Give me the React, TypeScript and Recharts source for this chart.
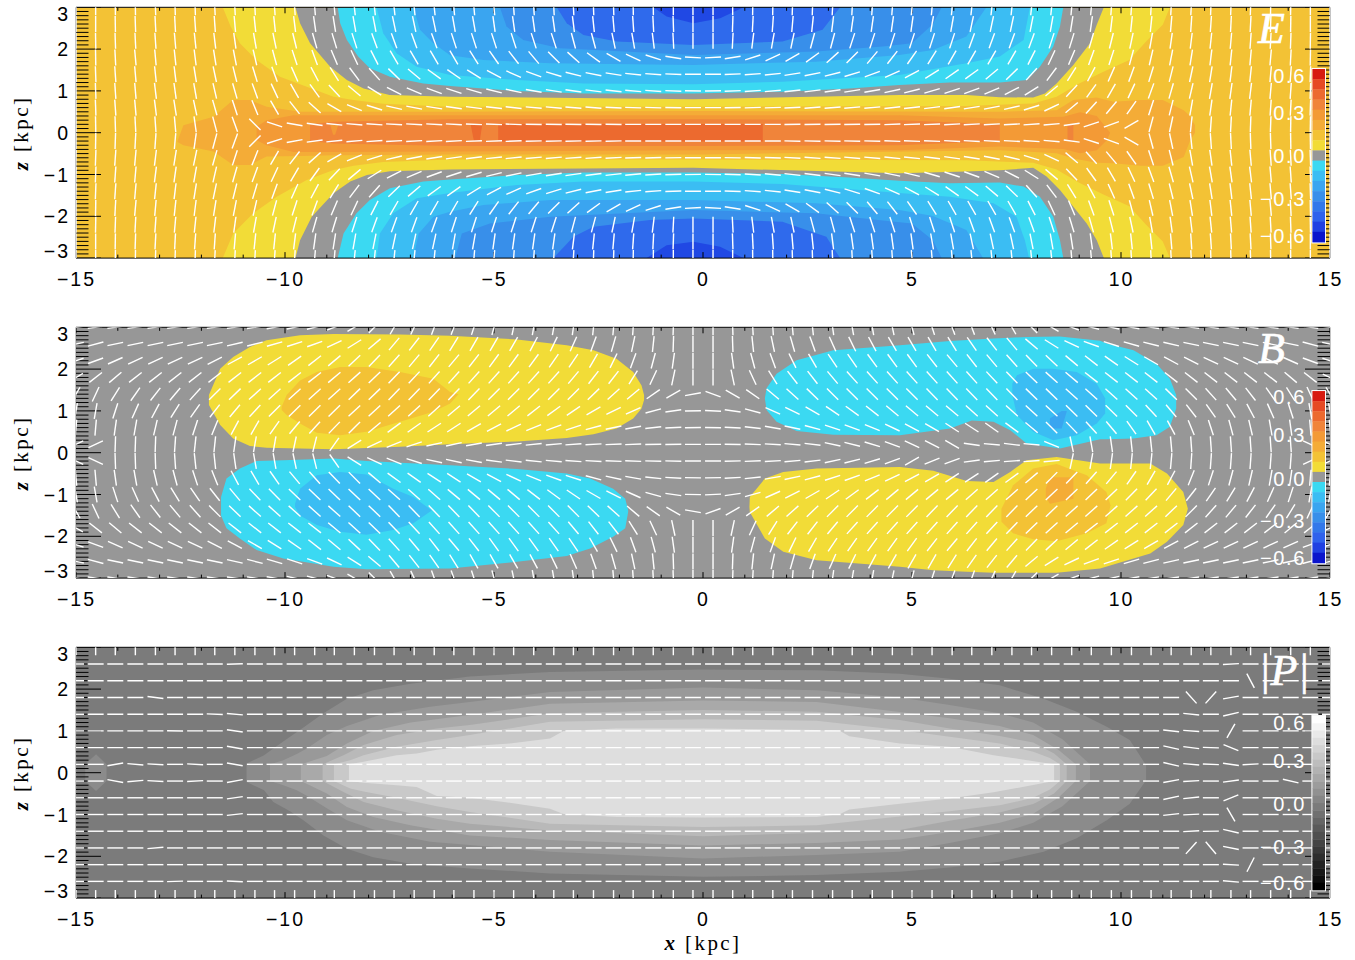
import { Area, ComposedChart, ReferenceLine, Scatter, XAxis, YAxis } from "recharts";

const SANS = "'Liberation Sans', Arial, sans-serif";
const SERIF = "'Liberation Serif', 'Times New Roman', serif";

const xTicks = [-15, -10, -5, 0, 5, 10, 15];
const zTicks = [-3, -2, -1, 0, 1, 2, 3];
const barTicks = ["0.6", "0.3", "0.0", "\u22120.3", "\u22120.6"];

// polarisation sticks sit on one grid in all three panels
const xCols = [
  -15, -14.53, -14.06, -13.58, -13.1, -12.63, -12.15, -11.68, -11.2, -10.72, -10.25, -9.77, -9.29, -8.82, -8.34, -7.86,
  -7.39, -6.91, -6.43, -5.96, -5.48, -5, -4.53, -4.05, -3.57, -3.1, -2.62, -2.14, -1.67, -1.19, -0.71, -0.24,
  0.24, 0.71, 1.19, 1.67, 2.14, 2.62, 3.1, 3.57, 4.05, 4.53, 5, 5.48, 5.96, 6.43, 6.91, 7.39,
  7.86, 8.34, 8.82, 9.29, 9.77, 10.25, 10.72, 11.2, 11.68, 12.15, 12.63, 13.1, 13.58, 14.06, 14.53, 15,
];
const zRows = [3, 2.6, 2.2, 1.8, 1.4, 1, 0.6, 0.2, -0.2, -0.6, -1, -1.4, -1.8, -2.2, -2.6, -3];

// stick angle in degrees, one row per zRows entry, one value per xCols entry
const eAngles = [
  [-90,-90,-89,-89,-88,-88,-88,-87,-87,-87,-86,-86,-85,-85,-84,-84,-84,-84,-84,-85,-85,-85,-86,-86,-87,-87,-88,-88,-89,-89,-90,-90, 90,90,89,89,88,88,87,87,86,86,85,85,85,84,84,84,84,84,85,85,86,86,87,87,87,88,88,88,89,89,90,90],
  [-90,-90,-89,-88,-87,-87,-86,-86,-85,-84,-84,-83,-82,-81,-80,-79,-78,-78,-78,-80,-80,-82,-82,-82,-82,-83,-84,-85,-86,-87,-88,-90, 90,88,87,86,85,84,83,82,82,82,82,80,80,78,78,78,79,80,81,82,83,84,84,85,86,86,87,87,88,89,90,90],
  [-90,-89,-88,-87,-86,-85,-84,-83,-82,-80,-78,-76,-74,-73,-72,-70,-70,-70,-70,-72,-72,-72,-72,-72,-72,-75,-75,-78,-80,-83,-87,-90, 90,87,83,80,78,75,75,72,72,72,72,72,72,70,70,70,70,72,73,74,76,78,80,82,83,84,85,86,87,88,89,90],
  [-90,-89,-87,-85,-85,-84,-83,-81,-79,-77,-75,-72,-70,-67,-65,-63,-60,-60,-60,-60,-58,-55,-52,-50,-45,-42,-36,-30,-25,-18,-9,-3, 3,9,18,25,30,36,42,45,50,52,55,58,60,60,60,60,63,65,67,70,72,75,77,79,81,83,84,85,85,87,89,90],
  [-89,-88,-86,-85,-84,-83,-81,-78,-76,-73,-70,-66,-62,-58,-53,-48,-44,-40,-36,-35,-32,-28,-24,-20,-17,-14,-11,-9,-6,-4,-2,0, 0,2,4,6,9,11,14,17,20,24,28,32,35,36,40,44,48,53,58,62,66,70,73,76,78,81,83,84,85,86,88,89],
  [-89,-88,-86,-85,-83,-82,-80,-77,-74,-70,-65,-60,-54,-47,-40,-32,-27,-23,-20,-18,-16,-14,-12,-10,-9,-8,-7,-6,-5,-4,-2,-1, 1,2,4,5,6,7,8,9,10,12,14,16,18,20,23,27,32,40,47,54,60,65,70,74,77,80,82,83,85,86,88,89],
  [-89,-88,-86,-85,-83,-81,-78,-74,-72,-68,-60,-52,-42,-30,-22,-17,-13,-11,-9,-8,-7,-6,-6,-5,-5,-4,-4,-3,-2,-2,-1,0, 0,1,2,2,3,4,4,5,5,6,6,7,8,9,11,13,17,25,40,48,50,55,72,76,80,82,84,85,86,87,88,89],
  [-90,-89,-88,-87,-86,-85,-82,-75,-70,-45,-18,-10,-8,-6,-5,-4,-3,-3,-3,-3,-2,-2,-2,-1,-1,-1,-1,-1,0,0,0,0, 0,0,0,0,1,1,1,1,1,2,2,2,3,3,3,3,4,5,8,18,20,30,75,78,84,86,87,88,88,89,89,90],
  [90,89,88,87,86,85,82,75,70,45,18,10,8,6,5,4,3,3,3,3,2,2,2,1,1,1,1,1,0,0,0,0, 0,0,0,0,-1,-1,-1,-1,-1,-2,-2,-2,-3,-3,-3,-3,-4,-5,-8,-18,-20,-30,-75,-78,-84,-86,-87,-88,-88,-89,-89,-90],
  [89,88,86,85,83,81,78,74,72,68,60,52,42,30,22,17,13,11,9,8,7,6,6,5,5,4,4,3,2,2,1,0, 0,-1,-2,-2,-3,-4,-4,-5,-5,-6,-6,-7,-8,-9,-11,-13,-17,-25,-40,-48,-50,-55,-72,-76,-80,-82,-84,-85,-86,-87,-88,-89],
  [89,88,86,85,83,82,80,77,74,70,65,60,54,47,40,32,27,23,20,18,16,14,12,10,9,8,7,6,5,4,2,1, -1,-2,-4,-5,-6,-7,-8,-9,-10,-12,-14,-16,-18,-20,-23,-27,-32,-40,-47,-54,-60,-65,-70,-74,-77,-80,-82,-83,-85,-86,-88,-89],
  [89,88,86,85,84,83,81,78,76,73,70,66,62,58,53,48,44,40,36,35,32,28,24,20,17,14,11,9,6,4,2,0, 0,-2,-4,-6,-9,-11,-14,-17,-20,-24,-28,-32,-35,-36,-40,-44,-48,-53,-58,-62,-66,-70,-73,-76,-78,-81,-83,-84,-85,-86,-88,-89],
  [90,89,87,85,85,84,83,81,79,77,75,72,70,67,65,63,60,60,60,60,58,55,52,50,45,42,36,30,25,18,9,3, -3,-9,-18,-25,-30,-36,-42,-45,-50,-52,-55,-58,-60,-60,-60,-60,-63,-65,-67,-70,-72,-75,-77,-79,-81,-83,-84,-85,-85,-87,-89,-90],
  [90,89,88,87,86,85,84,83,82,80,78,76,74,73,72,70,70,70,70,72,72,72,72,72,72,75,75,78,80,83,87,90, -90,-87,-83,-80,-78,-75,-75,-72,-72,-72,-72,-72,-72,-70,-70,-70,-70,-72,-73,-74,-76,-78,-80,-82,-83,-84,-85,-86,-87,-88,-89,-90],
  [90,90,89,88,87,87,86,86,85,84,84,83,82,81,80,79,78,78,78,80,80,82,82,82,82,83,84,85,86,87,88,90, -90,-88,-87,-86,-85,-84,-83,-82,-82,-82,-82,-80,-80,-78,-78,-78,-79,-80,-81,-82,-83,-84,-84,-85,-86,-86,-87,-87,-88,-89,-90,-90],
  [90,90,89,89,88,88,88,87,87,87,86,86,85,85,84,84,84,84,84,85,85,85,86,86,87,87,88,88,89,89,90,90, -90,-90,-89,-89,-88,-88,-87,-87,-86,-86,-85,-85,-85,-84,-84,-84,-84,-84,-85,-85,-86,-86,-87,-87,-87,-88,-88,-88,-89,-89,-90,-90],
];

const bAngles = [
  [8,8,8,8,8,8,8,8,8,9,10,12,14,20,30,45,60,65,70,70,72,75,78,80,80,82,84,85,86,87,88,90, -90,-88,-87,-86,-85,-84,-82,-80,-80,-78,-75,-72,-70,-70,-65,-60,-45,-30,-20,-14,-12,-10,-9,-8,-8,-8,-8,-8,-8,-8,-8,-8],
  [12,15,12,12,12,12,12,12,13,14,16,18,20,25,32,40,50,52,55,58,60,60,60,62,64,66,70,74,78,84,88,90, -90,-88,-84,-78,-74,-70,-66,-64,-62,-60,-60,-60,-58,-55,-52,-50,-40,-32,-25,-20,-18,-16,-14,-13,-12,-12,-12,-12,-12,-12,-15,-12],
  [18,20,24,25,25,25,25,27,28,30,32,35,38,40,43,46,48,50,52,50,52,54,54,54,55,56,60,64,70,75,82,90, -90,-82,-75,-70,-64,-60,-56,-55,-54,-54,-54,-52,-50,-52,-50,-48,-46,-43,-40,-38,-35,-32,-30,-28,-27,-25,-25,-25,-25,-24,-20,-18],
  [30,38,40,38,38,38,38,38,38,38,38,38,38,40,42,44,46,47,48,48,48,48,48,48,48,50,52,52,58,65,78,90, -90,-78,-65,-58,-52,-52,-50,-48,-48,-48,-48,-48,-48,-48,-47,-46,-44,-42,-40,-38,-38,-38,-38,-38,-38,-38,-38,-38,-38,-40,-38,-25],
  [60,65,58,55,52,50,48,45,44,42,42,42,42,42,44,44,46,46,46,46,46,45,45,45,45,45,44,42,40,35,30,10, -20,-30,-35,-40,-42,-44,-45,-45,-45,-45,-45,-46,-46,-46,-46,-46,-44,-44,-42,-42,-42,-42,-42,-44,-45,-48,-50,-52,-55,-58,-65,-60],
  [80,80,72,66,62,58,55,52,50,47,45,44,44,44,43,43,42,42,42,40,40,40,40,38,36,34,30,26,24,15,8,1, -3,-8,-15,-24,-26,-30,-34,-36,-38,-40,-40,-40,-40,-42,-42,-42,-43,-43,-44,-44,-44,-45,-47,-50,-52,-55,-58,-62,-66,-72,-80,-80],
  [85,85,82,80,77,75,72,68,62,60,55,50,48,46,45,40,36,35,33,33,30,28,25,22,20,18,15,12,10,6,3,1, -1,-3,-6,-10,-12,-15,-18,-20,-22,-25,-28,-30,-33,-33,-35,-36,-40,-45,-46,-48,-50,-55,-60,-62,-68,-72,-75,-77,-80,-82,-85,-85],
  [25,25,88,88,88,86,84,84,82,80,80,78,76,55,32,25,22,18,12,12,10,8,7,6,5,4,3,2,2,1,1,0, 0,-1,-2,-3,-5,-7,-12,-14,-17,-20,-25,-27,-30,-8,-5,-7,-5,-22,-78,-80,-82,-84,-84,-85,-86,-86,-86,-86,-86,-86,-25,-25],
  [-25,-25,-88,-88,-88,-86,-84,-84,-82,-80,-80,-78,-76,-55,-32,-25,-22,-18,-12,-12,-10,-8,-7,-6,-5,-4,-3,-2,-2,-1,-1,0, 0,1,2,3,5,7,12,14,17,20,30,22,20,8,5,4,4,5,78,80,82,84,84,85,86,86,86,86,86,86,25,25],
  [-85,-85,-82,-80,-77,-75,-72,-68,-62,-60,-55,-50,-48,-46,-45,-40,-36,-35,-33,-33,-30,-28,-25,-22,-20,-18,-15,-12,-10,-6,-3,-1, 1,3,6,10,12,15,18,20,22,25,28,30,33,33,35,36,40,45,46,48,50,55,60,62,68,72,75,77,80,82,85,85],
  [-80,-80,-72,-66,-62,-58,-55,-52,-50,-47,-45,-44,-44,-44,-43,-43,-42,-42,-42,-40,-40,-40,-40,-38,-36,-34,-30,-26,-24,-15,-8,-1, 3,8,15,24,26,30,34,36,38,40,40,40,40,42,42,42,43,43,44,44,44,45,47,50,52,55,58,62,66,72,80,80],
  [-60,-65,-58,-55,-52,-50,-48,-45,-44,-42,-42,-42,-42,-42,-44,-44,-46,-46,-46,-46,-46,-45,-45,-45,-45,-45,-44,-42,-40,-35,-30,-10, 20,30,35,40,42,44,45,45,45,45,45,46,46,46,46,46,44,44,42,42,42,42,42,44,45,48,50,52,55,58,65,60],
  [-30,-38,-40,-38,-38,-38,-38,-38,-38,-38,-38,-38,-38,-40,-42,-44,-46,-47,-48,-48,-48,-48,-48,-48,-48,-50,-52,-52,-58,-65,-78,-90, 90,78,65,58,52,52,50,48,48,48,48,48,48,48,47,46,44,42,40,38,38,38,38,38,38,38,38,38,38,40,38,25],
  [-18,-20,-24,-25,-25,-25,-25,-27,-28,-30,-32,-35,-38,-40,-43,-46,-48,-50,-52,-50,-52,-54,-54,-54,-55,-56,-60,-64,-70,-75,-82,-90, 90,82,75,70,64,60,56,55,54,54,54,52,50,52,50,48,46,43,40,38,35,32,30,28,27,25,25,25,25,24,20,18],
  [-12,-15,-12,-12,-12,-12,-12,-12,-13,-14,-16,-18,-20,-25,-32,-40,-50,-52,-55,-58,-60,-60,-60,-62,-64,-66,-70,-74,-78,-84,-88,-90, 90,88,84,78,74,70,66,64,62,60,60,60,58,55,52,50,40,32,25,20,18,16,14,13,12,12,12,12,12,12,15,12],
  [-8,-8,-8,-8,-8,-8,-8,-8,-8,-9,-10,-12,-14,-20,-30,-45,-60,-65,-70,-70,-72,-75,-78,-80,-80,-82,-84,-85,-86,-87,-88,-90, 90,88,87,86,85,84,82,80,80,78,75,72,70,70,65,60,45,30,20,14,12,10,9,8,8,8,8,8,8,8,8,8],
];

// |P| sticks are flat except at z = +-3 (upright) and these cells: [z, column, angle]
const pEdgeRows = [3, -3];
const pTilted = [
  [2.6, 8, 2], [2.6, 58, 3], [2.2, 59, -62],
  [1.8, 4, -7], [1.8, 56, -48], [1.8, 57, 48], [1.8, 58, 10],
  [1.4, 7, -2], [1.4, 8, -5], [1.4, 56, -6], [1.4, 58, 13],
  [1, 5, -1], [1, 8, -8], [1, 55, -6], [1, 56, -4], [1, 58, 60],
  [0.6, 8, -10], [0.6, 55, -13], [0.6, 56, -7], [0.6, 57, -2], [0.6, 58, -22],
  [0.2, 2, 10], [0.2, 3, -5], [0.2, 4, -3], [0.2, 6, -3], [0.2, 8, -10], [0.2, 55, -13], [0.2, 56, -5], [0.2, 57, -2], [0.2, 58, -8], [0.2, 59, 3],
  [-0.2, 2, -10], [-0.2, 3, 5], [-0.2, 4, -3], [-0.2, 6, 3], [-0.2, 8, 10], [-0.2, 55, 10], [-0.2, 56, 3], [-0.2, 58, 8], [-0.2, 61, -13],
  [-0.6, 8, 8], [-0.6, 55, 12], [-0.6, 56, 6], [-0.6, 58, 22],
  [-1, 8, 6], [-1, 55, 6], [-1, 56, 3], [-1, 58, -60],
  [-1.4, 56, 3], [-1.4, 57, 1], [-1.4, 58, -13],
  [-1.8, 4, 5], [-1.8, 56, 48], [-1.8, 57, -50], [-1.8, 58, -11],
  [-2.2, 58, -3], [-2.2, 59, 63], [-2.6, 5, 2], [-2.6, 8, -3], [-2.6, 58, -5],
];

// E contours: [x, z] along the inner edge of each level, upper and lower lobes
const eYellowTop = [[-11.49,3],[-11.3,2.54],[-11.08,2.14],[-10.68,1.74],[-10.12,1.34],[-9.48,1.1],[-8.84,0.86],[-8.36,0.78],[-7.65,0.69],[-6.05,0.62],[0,0.62],[6.3,0.64],[7.9,0.7],[8.46,0.86],[9,1.18],[9.58,1.46],[10.2,1.74],[10.6,2.18],[11,2.58],[11.17,3]];
const eYellowBottom = [[-11.49,-3],[-11.24,-2.41],[-10.76,-1.93],[-10.2,-1.53],[-9.48,-1.13],[-8.84,-0.89],[-8.36,-0.79],[-7.65,-0.7],[-6.05,-0.64],[0,-0.64],[6.3,-0.66],[7.9,-0.72],[8.46,-0.88],[9,-1.2],[9.58,-1.48],[10.2,-1.76],[10.6,-2.2],[11,-2.6],[11.17,-3]];
const eGrayTop = [[-9.75,3],[-9.64,2.62],[-9.4,2.14],[-8.92,1.58],[-8.52,1.26],[-8.12,1.06],[-7.5,0.9],[-6.05,0.86],[-0.23,0.8],[4.7,0.9],[6.3,0.9],[7.1,0.85],[7.9,0.84],[8.18,0.94],[8.46,1.18],[8.86,1.62],[9.26,2.14],[9.42,2.58],[9.59,3]];
const eGrayBottom = [[-9.75,-3],[-9.64,-2.57],[-9.36,-2.01],[-8.84,-1.45],[-8.44,-1.17],[-8.04,-1.01],[-7.49,-0.92],[-6.05,-0.88],[-0.23,-0.84],[4.7,-0.97],[6.3,-0.93],[7.1,-0.9],[7.9,-0.84],[8.22,-1.05],[8.54,-1.37],[8.86,-1.77],[9.18,-2.17],[9.42,-2.57],[9.59,-3]];
const eCyanTop = [[-8.74,3],[-8.68,2.62],[-8.52,2.22],[-8.25,1.82],[-7.97,1.54],[-7.49,1.34],[-6.69,1.18],[-6.05,1.12],[-4.45,1],[-2.85,0.94],[-0.23,0.94],[1.9,0.98],[3.5,1.06],[4.7,1.14],[5.9,1.2],[7.1,1.2],[7.75,1.26],[8.06,1.58],[8.38,2.06],[8.54,2.54],[8.62,3]];
const eCyanBottom = [[-8.74,-3],[-8.6,-2.41],[-8.29,-1.93],[-7.97,-1.61],[-7.49,-1.33],[-6.69,-1.17],[-6.05,-1.12],[-4.45,-1.01],[-2.85,-0.95],[-0.23,-0.95],[1.9,-0.99],[3.5,-1.07],[4.7,-1.15],[5.9,-1.21],[7.1,-1.19],[7.67,-1.29],[8.06,-1.53],[8.38,-2.01],[8.54,-2.57],[8.62,-3]];
const eSkyTop = [[-7.81,3],[-7.65,2.38],[-7.33,1.9],[-6.85,1.58],[-6.05,1.38],[-4.45,1.26],[-2.85,1.18],[-0.23,1.16],[1.9,1.22],[4.7,1.38],[6.3,1.66],[7.1,1.82],[7.67,2.22],[7.82,3]];
const eSkyBottom = [[-7.81,-3],[-7.73,-2.41],[-7.41,-1.93],[-6.85,-1.57],[-6.05,-1.44],[-4.45,-1.25],[-2.85,-1.17],[-0.23,-1.17],[1.9,-1.23],[4.7,-1.44],[5.9,-1.53],[6.95,-1.69],[7.5,-2.01],[7.7,-2.57],[7.8,-3]];
const eAzureTop = [[-6.93,3],[-6.77,2.46],[-6.45,2.14],[-6.05,1.85],[-5.25,1.74],[-3.65,1.66],[-0.23,1.62],[2.7,1.7],[4.7,1.86],[5.5,1.98],[6.3,2.3],[6.78,3]];
const eAzureBottom = [[-6.93,-3],[-6.8,-2.41],[-6.45,-2.01],[-6.05,-1.89],[-5.25,-1.73],[-3.65,-1.61],[-0.23,-1.61],[2.7,-1.69],[4.7,-1.85],[5.5,-1.99],[6.3,-2.33],[6.7,-3]];
const eBlueTop = [[-4.86,3],[-4.7,2.54],[-4.3,2.22],[-3.42,2.02],[-0.23,1.86],[2.7,1.94],[4.3,2.06],[5,2.14],[5.5,2.6],[5.71,3]];
const eBlueBottom = [[-5.93,-3],[-5.77,-2.41],[-5.1,-2.17],[-3.65,-2.01],[-0.23,-1.85],[2.7,-1.93],[4.3,-2.1],[5,-2.17],[5.5,-2.57],[5.71,-3]];
const eDeepTop = [[-3.5,3],[-3.26,2.62],[-2.86,2.34],[-2.06,2.18],[-0.23,2.1],[1.9,2.18],[2.86,2.46],[3.28,3]];
const eDeepBottom = [[-3.58,-3],[-3.1,-2.49],[-2.62,-2.25],[-1.27,-2.09],[-0.23,-2.05],[1.9,-2.13],[2.95,-2.49],[3.28,-3]];
const eNavyTop = [[-1.19,3],[-0.87,2.78],[-0.23,2.62],[0.41,2.74],[0.97,3]];
const eNavyBottom = [[-1.35,-3],[-0.87,-2.69],[-0.23,-2.61],[0.41,-2.73],[0.97,-3]];

// E mid-plane levels and every closed lobe: [x, low z, high z]
const eAmber = [[-12.57,-0.22,-0.2],[-12.43,-0.3,0.18],[-11.71,-0.45,0.38],[-11.24,-0.77,0.78],[-10.84,-0.77,0.78],[-10.44,-0.57,0.62],[-9.64,-0.56,0.5],[-8.84,-0.54,0.5],[-6.05,-0.52,0.5],[0,-0.52,0.52],[7.1,-0.42,0.5],[8.46,-0.49,0.54],[8.86,-0.62,0.78],[9.42,-0.72,0.84],[9.82,-0.73,0.74],[10.47,-0.79,0.78],[11,-0.79,0.78],[11.5,-0.58,0.54],[11.65,-0.2,0.4],[11.77,0,0.18]];
const eOchre = [[-10.68,-0.18,0.14],[-10.44,-0.3,0.3],[-9.8,-0.46,0.42],[-8.84,-0.46,0.42],[0,-0.42,0.42],[4.7,-0.42,0.42],[7.1,-0.33,0.34],[8.62,-0.39,0.38],[9.02,-0.49,0.49],[9.42,-0.42,0.4],[9.66,-0.18,0.1],[9.74,0,0]];
const eOrangeMain = [[-9.4,-0.2,0.2],[-8.84,-0.26,0.26],[-6.05,-0.32,0.32],[0,-0.32,0.32],[4.7,-0.3,0.3],[7.1,-0.2,0.2]];
const eOchreSpot = [[-8.92,0.2,0.2],[-8.85,-0.05,0.2],[-8.8,-0.05,0.2],[-8.72,0.2,0.2]];
const eOrangeSpot = [[8.72,-0.2,0.2],[8.86,-0.2,0.2]];
const eEmberMain = [[-4.9,-0.21,0.21],[1.43,-0.21,0.21]];
const eEmberSpot = [[-5.56,0.2,0.2],[-5.48,-0.2,0.2],[-5.34,-0.2,0.2],[-5.28,0.2,0.2]];

const bYellowUpper = [[-11.82,1.14,1.38],[-11.55,0.66,2.01],[-11.24,0.34,2.29],[-10.84,0.16,2.53],[-10.44,0.12,2.69],[-9.64,0.1,2.81],[-8.84,0.08,2.84],[-7.25,0.14,2.83],[-6.05,0.2,2.8],[-4.45,0.27,2.71],[-3.26,0.35,2.57],[-2.62,0.44,2.45],[-2.07,0.58,2.25],[-1.67,0.82,1.93],[-1.47,1.06,1.61],[-1.41,1.26,1.38]];
const bGoldUpper = [[-10.08,1.02,1.1],[-9.96,0.9,1.38],[-9.64,0.7,1.73],[-9.24,0.48,1.93],[-8.68,0.42,2.05],[-8.05,0.5,2.05],[-7.25,0.74,1.93],[-6.45,0.98,1.77],[-6.05,1.18,1.45],[-5.85,1.4,1.4]];
const bCyanLower = [[-11.53,-1.5,-1.06],[-11.4,-1.81,-0.62],[-11.08,-2.05,-0.38],[-10.68,-2.33,-0.2],[-10.04,-2.53,-0.18],[-8.84,-2.73,-0.14],[-8.05,-2.79,-0.2],[-6.05,-2.77,-0.3],[-4.45,-2.61,-0.39],[-3.26,-2.47,-0.5],[-2.7,-2.29,-0.62],[-2.15,-2.01,-0.86],[-1.86,-1.81,-1.1],[-1.79,-1.42,-1.38]];
const bSkyLower = [[-9.76,-1.3,-1.22],[-9.64,-1.5,-0.86],[-9.24,-1.73,-0.54],[-8.68,-1.89,-0.46],[-8.05,-1.96,-0.52],[-7.41,-1.85,-0.86],[-6.93,-1.69,-1.06],[-6.49,-1.38,-1.38]];
const bCyanUpper = [[1.48,1.3,1.3],[1.52,1.02,1.54],[1.76,0.74,1.89],[2.24,0.52,2.21],[3.12,0.43,2.45],[4.71,0.42,2.57],[5.91,0.58,2.67],[6.43,0.77,2.7],[6.95,0.74,2.73],[7.35,0.54,2.75],[7.74,0.22,2.77],[8.54,0.1,2.78],[9.5,0.32,2.68],[9.66,0.32,2.61],[10.3,0.34,2.45],[10.85,0.42,2.13],[11.17,0.62,1.77],[11.32,1.06,1.38]];
const bSkyUpper = [[7.4,1.38,1.65],[7.51,0.9,1.85],[7.9,0.5,2.01],[8.38,0.3,2.01],[8.94,0.42,1.93],[9.42,0.7,1.65],[9.62,0.94,1.3]];
const bAzureUpper = [[8.3,0.58,0.82],[8.58,0.58,1],[8.7,0.98,1]];
const bYellowLower = [[1.11,-1.3,-1.3],[1.12,-1.42,-1.06],[1.48,-2.05,-0.62],[1.92,-2.37,-0.46],[2.72,-2.57,-0.38],[4.71,-2.73,-0.34],[5.51,-2.81,-0.43],[6.31,-2.85,-0.68],[6.95,-2.87,-0.7],[7.35,-2.87,-0.46],[7.74,-2.87,-0.18],[8.46,-2.87,-0.1],[9.5,-2.77,-0.26],[10.7,-2.41,-0.26],[11.1,-2.13,-0.5],[11.49,-1.73,-0.94],[11.6,-1.34,-1.34]];
const bGoldLower = [[7.14,-1.65,-1.34],[7.42,-1.93,-0.78],[7.9,-2.07,-0.38],[8.46,-2.12,-0.27],[9.18,-1.93,-0.54],[9.65,-1.69,-0.94],[9.75,-1.26,-1.26]];
const bAmberLower = [[8.2,-1.06,-0.86],[8.3,-1.22,-0.59],[8.86,-1.1,-0.59]];

const pLevel1 = [[-10.92,-0.22,0.22],[-10.5,-0.42,0.42],[-10.28,-0.7,0.58],[-9.88,-0.92,0.86],[-9.56,-1.14,1.08],[-9.08,-1.5,1.42],[-8.52,-1.82,1.77],[-7.89,-2.02,1.97],[-7,-2.18,2.13],[-5.58,-2.29,2.3],[-3.66,-2.41,2.41],[0,-2.49,2.47],[2.72,-2.45,2.45],[4.71,-2.37,2.37],[5.9,-2.27,2.25],[7.1,-2.13,2.09],[8.15,-1.89,1.77],[8.94,-1.57,1.46],[9.66,-1.14,1.1],[10.21,-0.74,0.78],[10.6,-0.18,0.18]];
const pLevel2 = [[-10.36,-0.2,0.2],[-10.04,-0.3,0.3],[-9.72,-0.42,0.45],[-9.48,-0.55,0.58],[-9,-0.85,0.9],[-8.52,-1.14,1.12],[-7.73,-1.41,1.38],[-6.53,-1.65,1.58],[-5.58,-1.73,1.69],[-3.66,-1.89,1.93],[0,-2.05,2.04],[2.72,-1.97,1.97],[4.71,-1.89,1.8],[5.9,-1.68,1.62],[7.1,-1.45,1.42],[7.9,-1.2,1.2],[8.6,-0.8,0.8],[9.26,-0.2,0.2]];
const pLevel3 = [[-9.62,-0.2,0.2],[-9,-0.5,0.4],[-8.52,-0.82,0.7],[-7.89,-1.06,1],[-7,-1.26,1.2],[-5.58,-1.5,1.38],[-3.66,-1.61,1.65],[0,-1.74,1.73],[2.72,-1.68,1.69],[4.71,-1.6,1.45],[5.9,-1.42,1.3],[7.1,-1.2,1.12],[7.9,-0.98,0.9],[8.5,-0.6,0.55],[8.92,-0.2,0.2]];
const pLevel4 = [[-9.1,-0.2,0.2],[-8.6,-0.46,0.42],[-8.12,-0.7,0.66],[-7.33,-0.9,0.9],[-6.37,-1.1,1.06],[-5.58,-1.22,1.14],[-3.66,-1.38,1.42],[0,-1.52,1.5],[2.72,-1.44,1.46],[4.71,-1.37,1.26],[5.9,-1.15,1.06],[7.1,-0.95,0.88],[7.9,-0.75,0.72],[8.4,-0.5,0.46],[8.7,-0.2,0.2]];
const pLevel5 = [[-8.83,-0.2,0.2],[-8.44,-0.38,0.3],[-8.12,-0.45,0.42],[-7.33,-0.6,0.62],[-6.37,-0.8,0.78],[-5.58,-0.94,0.9],[-3.66,-1.22,1.22],[0,-1.3,1.28],[2.72,-1.26,1.24],[4.71,-1.05,1.02],[5.9,-0.92,0.86],[7.1,-0.78,0.7],[7.9,-0.6,0.5],[8.3,-0.4,0.35],[8.54,-0.2,0.2]];
const pLevel6 = [[-8.47,-0.2,0.2],[-8.12,-0.24,0.26],[-7.33,-0.3,0.42],[-6.85,-0.34,0.46],[-6.37,-0.56,0.55],[-5.58,-0.6,0.63],[-4.62,-0.72,0.7],[-3.66,-0.86,0.82],[-3.34,-0.99,1],[-2.07,-1.06,1.06],[0,-1.07,1.06],[2.72,-1.06,1.02],[3.28,-0.99,1],[3.5,-0.88,0.87],[4.71,-0.74,0.7],[5.9,-0.62,0.62],[6.95,-0.47,0.42],[8.4,-0.2,0.2]];
const pSpot = [[-14.78,-0.2,0.2],[-14.52,-0.44,0.44],[-14.27,-0.2,0.2]];

const heatColors = [
  "#d71a10", "#e64a24", "#ec6a2f", "#f0843a", "#f39a36", "#f4ac37", "#f3c235", "#f2dc37", "#979797",
  "#3bd9f2", "#3bbdf3", "#3aa5f0", "#388fea", "#3278ea", "#2f62ec", "#2040e2", "#0a14cc",
];
const grayColors = [
  "#ffffff", "#f4f4f4", "#e9e9e9", "#dedede", "#d3d3d3", "#c8c8c8", "#bdbdbd", "#b2b2b2", "#a7a7a7", "#9c9c9c", "#919191", "#868686",
  "#7b7b7b", "#707070", "#656565", "#5a5a5a", "#4f4f4f", "#444444", "#393939", "#2e2e2e", "#232323", "#181818", "#0d0d0d", "#000000",
];

type Row = { x: number; range: number[] };
type Band = { color: string; rows: Row[] };

const above = (pts: number[][]): Row[] => pts.map(([x, z]) => ({ x, range: [z, 3] }));
const below = (pts: number[][]): Row[] => pts.map(([x, z]) => ({ x, range: [-3, z] }));
const between = (pts: number[][]): Row[] => pts.map(([x, lo, hi]) => ({ x, range: [lo, hi] }));
const fullPanel: Row[] = [{ x: -15, range: [-3, 3] }, { x: 15, range: [-3, 3] }];

const eBands: Band[] = [
  { color: "#f3c235", rows: fullPanel },
  { color: "#f2dc37", rows: above(eYellowTop) }, { color: "#f2dc37", rows: below(eYellowBottom) },
  { color: "#979797", rows: above(eGrayTop) }, { color: "#979797", rows: below(eGrayBottom) },
  { color: "#3bd9f2", rows: above(eCyanTop) }, { color: "#3bd9f2", rows: below(eCyanBottom) },
  { color: "#3bbdf3", rows: above(eSkyTop) }, { color: "#3bbdf3", rows: below(eSkyBottom) },
  { color: "#3aa5f0", rows: above(eAzureTop) }, { color: "#3aa5f0", rows: below(eAzureBottom) },
  { color: "#388fea", rows: above(eBlueTop) }, { color: "#388fea", rows: below(eBlueBottom) },
  { color: "#2f6aec", rows: above(eDeepTop) }, { color: "#2f6aec", rows: below(eDeepBottom) },
  { color: "#2048e4", rows: above(eNavyTop) }, { color: "#2048e4", rows: below(eNavyBottom) },
  { color: "#f4ac37", rows: between(eAmber) },
  { color: "#f39a36", rows: between(eOchre) },
  { color: "#f0843a", rows: between(eOrangeMain) },
  { color: "#f39a36", rows: between(eOchreSpot) },
  { color: "#f0843a", rows: between(eOrangeSpot) },
  { color: "#ec6a2f", rows: between(eEmberMain) },
  { color: "#ec6a2f", rows: between(eEmberSpot) },
];

const bBands: Band[] = [
  { color: "#979797", rows: fullPanel },
  { color: "#f2dc37", rows: between(bYellowUpper) },
  { color: "#f3c235", rows: between(bGoldUpper) },
  { color: "#3bd9f2", rows: between(bCyanLower) },
  { color: "#3bbdf3", rows: between(bSkyLower) },
  { color: "#3bd9f2", rows: between(bCyanUpper) },
  { color: "#3bbdf3", rows: between(bSkyUpper) },
  { color: "#3aa5f0", rows: between(bAzureUpper) },
  { color: "#f2dc37", rows: between(bYellowLower) },
  { color: "#f3c235", rows: between(bGoldLower) },
  { color: "#f4ac37", rows: between(bAmberLower) },
];

const pBands: Band[] = [
  { color: "#7b7b7b", rows: fullPanel },
  { color: "#8b8b8b", rows: between(pSpot) },
  { color: "#8b8b8b", rows: between(pLevel1) },
  { color: "#999999", rows: between(pLevel2) },
  { color: "#a9a9a9", rows: between(pLevel3) },
  { color: "#b9b9b9", rows: between(pLevel4) },
  { color: "#c9c9c9", rows: between(pLevel5) },
  { color: "#dedede", rows: between(pLevel6) },
];

const pAngles = zRows.map((z) =>
  xCols.map((_, c) => {
    if (pEdgeRows.includes(z)) return 90;
    const hit = pTilted.find((t) => t[0] === z && t[1] === c);
    return hit ? hit[2] : 0;
  }),
);

const sticksFrom = (angles: number[][]) =>
  zRows.flatMap((z, r) => xCols.map((x, c) => ({ x, z, angle: angles[r][c] })));

// inward ticks, every 1 kpc in x and every 0.1 kpc in z
const axisTicks: { x: number; z: number; len: number; dir: string }[] = [];
for (let v = -15; v <= 15; v++) {
  const len = v % 5 === 0 ? 6 : 3.5;
  axisTicks.push({ x: v, z: -3, len, dir: "up" }, { x: v, z: 3, len, dir: "down" });
}
for (let k = -30; k <= 30; k++) {
  const len = k % 10 === 0 ? 25 : 12.5;
  axisTicks.push({ x: -15, z: k / 10, len, dir: "right" }, { x: 15, z: k / 10, len, dir: "left" });
}

const Stick = ({ cx, cy, payload }: any) => {
  const a = (payload.angle * Math.PI) / 180;
  const dx = 8 * Math.cos(a);
  const dy = 8 * Math.sin(a);
  return <line x1={cx - dx} y1={cy + dy} x2={cx + dx} y2={cy - dy} stroke="#fff" strokeWidth={1.4} />;
};

const AxisTick = ({ cx, cy, payload }: any) => {
  const { len, dir } = payload;
  const x2 = dir === "right" ? cx + len : dir === "left" ? cx - len : cx;
  const y2 = dir === "up" ? cy - len : dir === "down" ? cy + len : cy;
  return <line x1={cx} y1={cy} x2={x2} y2={y2} stroke="#000" strokeWidth={1} />;
};

const BarCell = ({ cx, cy, payload }: any) => (
  <rect x={cx - 6.3} y={cy - payload.h / 2 - 0.2} width={12.6} height={payload.h + 0.4} fill={payload.color} />
);

const BarFrame = ({ cx, cy, payload }: any) => (
  <rect x={cx - 7.3} y={cy - payload.h / 2 - 1.2} width={14.6} height={payload.h + 2.4} fill="#fff" />
);

const BarLabel = ({ cx, cy, payload }: any) => (
  <text x={cx + 1} y={cy + 7} textAnchor="end" fontFamily={SANS} fontSize={20} letterSpacing={1.6} fill="#fff">
    {payload.text}
  </text>
);

const Title = ({ cx, cy, payload }: any) => (
  <text x={cx} y={cy + 15} textAnchor="middle" fontFamily={SERIF} fontStyle="italic" fontSize={44} fill="#fff" stroke="#fff" strokeWidth={0.6}>
    {payload.text}
  </text>
);

const XTick = ({ x, y, payload }: any) => (
  <text x={x + 0.5} y={y + 28} textAnchor="middle" fontFamily={SANS} fontSize={19.5} letterSpacing={2} fill="#000">
    {payload.value < 0 ? `\u2212${-payload.value}` : payload.value}
  </text>
);

const YTick = ({ y, payload }: any) => {
  const nudge = payload.value === 3 ? 7 : payload.value === -3 ? -7 : 0;
  return (
    <text x={70} y={y + nudge + 7} textAnchor="end" fontFamily={SANS} fontSize={19.5} letterSpacing={2} fill="#000">
      {payload.value < 0 ? `\u2212${-payload.value}` : payload.value}
    </text>
  );
};

const zAxisName = () => (
  <text transform="translate(28,133) rotate(-90)" textAnchor="middle" fontFamily={SERIF} fontSize={21} letterSpacing={2.4} fill="#000">
    <tspan fontStyle="italic" fontWeight="bold">z</tspan> [kpc]
  </text>
);

const xAxisName = () => (
  <text x={703} y={310} textAnchor="middle" fontFamily={SERIF} fontSize={21} letterSpacing={2.4} fill="#000">
    <tspan fontStyle="italic" fontWeight="bold">x</tspan> [kpc]
  </text>
);

type PanelProps = {
  top: number;
  height: number;
  bands: Band[];
  sticks: { x: number; z: number; angle: number }[];
  barColors: string[];
  barTop: number;
  barBottom: number;
  labelZ: number[];
  title: string;
  titleAt: { x: number; z: number };
  showXName?: boolean;
};

function Panel({ top, height, bands, sticks, barColors, barTop, barBottom, labelZ, title, titleAt, showXName }: PanelProps) {
  const step = (barTop - barBottom) / barColors.length;
  const pxPerKpc = 41.8;
  const cells = barColors.map((color, i) => ({ x: 14.73, z: barTop - (i + 0.5) * step, color, h: step * pxPerKpc }));
  const frame = [{ x: 14.73, z: (barTop + barBottom) / 2, h: (barTop - barBottom) * pxPerKpc }];
  const labels = barTicks.map((text, i) => ({ x: 14.4, z: labelZ[i], text }));

  return (
    <div style={{ position: "absolute", left: 0, top }}>
      <ComposedChart width={1355} height={height} margin={{ top: 7.3, right: 25, bottom: 0, left: 0 }}>
        <XAxis
          dataKey="x"
          type="number"
          domain={[-15, 15]}
          ticks={xTicks}
          interval={0}
          allowDataOverflow
          tick={XTick}
          tickLine={false}
          tickSize={0}
          tickMargin={0}
          height={height - 7.3 - 250.8}
          axisLine={{ stroke: "#000" }}
          label={showXName ? xAxisName : undefined}
        />
        <YAxis
          dataKey="z"
          type="number"
          domain={[-3, 3]}
          ticks={zTicks}
          interval={0}
          allowDataOverflow
          tick={YTick}
          tickLine={false}
          tickSize={0}
          tickMargin={0}
          width={76}
          axisLine={{ stroke: "#8a8a8a" }}
          label={zAxisName}
        />
        {bands.map((b, i) => (
          <Area
            key={i}
            data={b.rows}
            dataKey="range"
            type="linear"
            fill={b.color}
            fillOpacity={1}
            stroke="none"
            dot={false}
            activeDot={false}
            isAnimationActive={false}
          />
        ))}
        <ReferenceLine y={3} stroke="#000" />
        <ReferenceLine x={15} stroke="#8a8a8a" />
        <Scatter data={axisTicks} shape={AxisTick} isAnimationActive={false} />
        <Scatter data={sticks} shape={Stick} isAnimationActive={false} />
        <Scatter data={frame} shape={BarFrame} isAnimationActive={false} />
        <Scatter data={cells} shape={BarCell} isAnimationActive={false} />
        <Scatter data={labels} shape={BarLabel} isAnimationActive={false} />
        <Scatter data={[{ ...titleAt, text: title }]} shape={Title} isAnimationActive={false} />
      </ComposedChart>
    </div>
  );
}

export default function App() {
  return (
    <div style={{ position: "absolute", left: 0, top: 0, width: 1355, height: 960, background: "#fff" }}>
      <Panel
        top={0}
        height={300}
        bands={eBands}
        sticks={sticksFrom(eAngles)}
        barColors={heatColors}
        barTop={1.52}
        barBottom={-2.62}
        labelZ={[1.36, 0.47, -0.56, -1.59, -2.47]}
        title="E"
        titleAt={{ x: 13.6, z: 2.5 }}
      />
      <Panel
        top={320}
        height={300}
        bands={bBands}
        sticks={sticksFrom(bAngles)}
        barColors={heatColors}
        barTop={1.47}
        barBottom={-2.64}
        labelZ={[1.33, 0.42, -0.62, -1.64, -2.51]}
        title="B"
        titleAt={{ x: 13.6, z: 2.5 }}
      />
      <Panel
        top={640}
        height={320}
        bands={pBands}
        sticks={sticksFrom(pAngles)}
        barColors={grayColors}
        barTop={1.35}
        barBottom={-2.81}
        labelZ={[1.18, 0.27, -0.75, -1.78, -2.64]}
        title="|P|"
        titleAt={{ x: 13.9, z: 2.46 }}
        showXName
      />
    </div>
  );
}
